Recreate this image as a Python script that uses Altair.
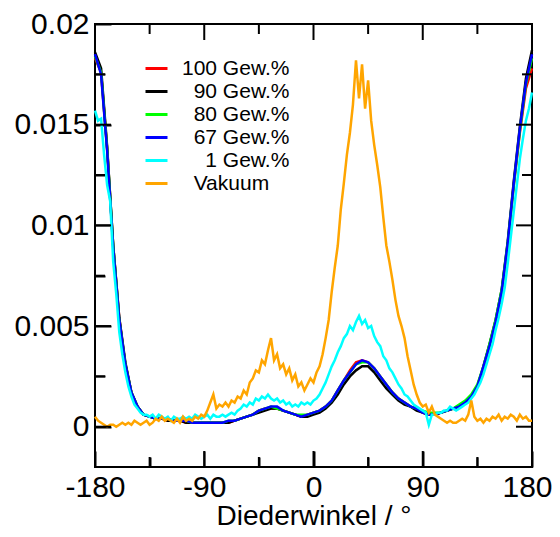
import altair as alt
import pandas as pd

# x grids (degrees)
angles5 = list(range(-180, 181, 5))
angles25 = [a / 2 for a in range(-360, 361, 5)]

# 100 Gew.%  (5 deg steps)
w100 = [.0183, .0176, .0138, .0090, .0054, .0031, .0017, .0010, .0006,
        .0005, .0004, .0004, .0003, .0003, .0003, .0002, .0002, .0002,
        .0002, .0002, .0002, .0002, .0002, .0003, .0004, .0005, .0006,
        .0008, .0009, .0009, .0009, .0008, .0007, .0006, .0005, .0006,
        .0007, .0008, .0010, .0013, .0018, .0023, .0028, .0032, .0033,
        .0032, .0029, .0025, .0021, .0017, .0014, .0012, .0010, .0009,
        .0007, .0006, .0006, .0007, .0008, .0009, .0010, .0012, .0015,
        .0020, .0029, .0040, .0052, .0066, .0090, .0120, .0146, .0168,
        .0178]
# 90 Gew.%
w90 = [.0186, .0178, .0139, .0090, .0054, .0032, .0017, .0010, .0006,
       .0005, .0004, .0004, .0003, .0003, .0003, .0002, .0002, .0002,
       .0002, .0002, .0002, .0002, .0002, .0003, .0004, .0005, .0006,
       .0007, .0008, .0009, .0009, .0008, .0007, .0006, .0005, .0005,
       .0006, .0007, .0009, .0012, .0016, .0021, .0025, .0028, .0030,
       .0030, .0027, .0023, .0019, .0016, .0013, .0011, .0010, .0008,
       .0007, .0006, .0006, .0007, .0008, .0009, .0010, .0012, .0015,
       .0020, .0030, .0041, .0053, .0068, .0092, .0122, .0149, .0173,
       .0187]
# 80 Gew.%
w80 = [.0184, .0176, .0138, .0090, .0053, .0031, .0017, .0010, .0006,
       .0005, .0004, .0004, .0004, .0003, .0003, .0003, .0002, .0002,
       .0002, .0002, .0002, .0002, .0003, .0003, .0004, .0005, .0006,
       .0008, .0009, .0010, .0009, .0008, .0007, .0006, .0006, .0006,
       .0007, .0008, .0010, .0013, .0018, .0023, .0027, .0031, .0032,
       .0032, .0029, .0025, .0021, .0017, .0014, .0012, .0010, .0009,
       .0008, .0007, .0007, .0007, .0008, .0009, .0011, .0013, .0016,
       .0021, .0030, .0041, .0053, .0068, .0091, .0120, .0147, .0170,
       .0183]
# 67 Gew.%
w67 = [.0185, .0175, .0137, .0089, .0053, .0031, .0017, .0010, .0006,
       .0005, .0004, .0004, .0004, .0003, .0003, .0003, .0002, .0002,
       .0002, .0002, .0002, .0002, .0003, .0003, .0004, .0005, .0006,
       .0008, .0009, .0010, .0010, .0008, .0007, .0006, .0005, .0006,
       .0007, .0008, .0010, .0013, .0018, .0023, .0027, .0031, .0033,
       .0032, .0029, .0025, .0021, .0017, .0014, .0012, .0010, .0009,
       .0007, .0006, .0006, .0007, .0008, .0009, .0010, .0012, .0015,
       .0020, .0030, .0040, .0052, .0067, .0091, .0121, .0148, .0171,
       .0185]
# 1 Gew.%  (2.5 deg steps)
w1 = [.0157, .0152, .0153, .0135, .0120, .0112, .0082, .0066, .0047, .0036, .0027, .0020, .0015, .0011, .0009, .0007, .0006, .0006,
      .0005, .0006, .0004, .0006, .0005, .0004, .0005, .0003, .0005, .0004, .0004, .0005, .0004, .0005, .0004, .0006, .0005, .0004,
      .0005, .0006, .0004, .0006, .0005, .0005, .0006, .0005, .0006, .0007, .0006, .0008, .0009, .0011, .0010, .0012, .0011, .0014,
      .0013, .0015, .0014, .0016, .0014, .0013, .0014, .0012, .0013, .0011, .0012, .0010, .0011, .0010, .0012, .0011, .0012, .0011,
      .0013, .0014, .0016, .0019, .0022, .0026, .0030, .0033, .0037, .0040, .0044, .0046, .0050, .0048, .0052, .0055, .0051, .0053,
      .0049, .0050, .0045, .0042, .0040, .0035, .0033, .0029, .0027, .0024, .0021, .0019, .0016, .0015, .0013, .0011, .0010, .0009,
      .0008, .0007, .0001, .0006, .0006, .0007, .0007, .0008, .0008, .0010, .0009, .0008, .0009, .0010, .0011, .0012, .0014, .0016,
      .0019, .0022, .0026, .0031, .0036, .0041, .0048, .0054, .0061, .0069, .0081, .0094, .0107, .0120, .0133, .0143, .0152, .0158,
      .0166]
# Vakuum  (2.5 deg steps)
vak = [.0005, .0003, .0002, .0001, .0000, .0001, .0001, .0000, .0001, .0002, .0001, .0002, .0001, .0003, .0002, .0001, .0002, .0003,
       .0001, .0002, .0004, .0003, .0005, .0003, .0004, .0003, .0002, .0004, .0002, .0005, .0003, .0004, .0003, .0005, .0004, .0006,
       .0005, .0008, .0012, .0016, .0009, .0011, .0010, .0012, .0010, .0013, .0012, .0015, .0014, .0018, .0016, .0022, .0024, .0028,
       .0027, .0033, .0031, .0038, .0044, .0033, .0036, .0029, .0031, .0026, .0029, .0023, .0026, .0020, .0022, .0018, .0021, .0024,
       .0022, .0027, .0030, .0036, .0044, .0053, .0067, .0079, .0090, .0108, .0121, .0135, .0146, .0160, .0182, .0163, .0180, .0158,
       .0172, .0152, .0140, .0130, .0119, .0104, .0090, .0082, .0073, .0063, .0055, .0050, .0044, .0035, .0028, .0021, .0016, .0012,
       .0010, .0011, .0007, .0010, .0006, .0005, .0004, .0003, .0002, .0003, .0002, .0002, .0003, .0004, .0003, .0006, .0013, .0005,
       .0003, .0004, .0002, .0004, .0003, .0005, .0004, .0006, .0003, .0005, .0004, .0006, .0005, .0003, .0006, .0004, .0005, .0003,
       .0003]

ZW = "\u200b"   # keeps the padding below from being trimmed
NB = "\u00a0"
labels = ["100 Gew.%", ZW + NB * 2 + "90 Gew.%", ZW + NB * 2 + "80 Gew.%", ZW + NB * 2 + "67 Gew.%",
          ZW + NB * 4 + "1 Gew.%", ZW + NB * 2 + "Vakuum"]
colors = ["#ff0000", "#000000", "#00ff00", "#0000ff", "#00ffff", "#ffa500"]

x_tick_values = [-180, -135, -90, -45, 0, 45, 90, 135, 180]
y_tick_values = [0, 0.0025, 0.005, 0.0075, 0.01, 0.0125, 0.015, 0.0175, 0.02]

rows = []
series_list = [(labels[0], angles5, w100), (labels[1], angles5, w90), (labels[2], angles5, w80),
               (labels[3], angles5, w67), (labels[4], angles25, w1), (labels[5], angles25, vak)]
for k, (lab, xs_, ys_) in enumerate(series_list):
    for x, y in zip(xs_, ys_):
        rows.append({"angle": x, "p": y, "series": lab, "k": k})
df = pd.DataFrame(rows)

W, H = 437, 443
X0, X1 = -180, 180
Y0, Y1 = -0.002, 0.02
FONT = "Liberation Sans"
FS = 30
TL = 16
xscale = alt.Scale(domain=[X0, X1], nice=False, zero=False)
yscale = alt.Scale(domain=[Y0, Y1], nice=False, zero=False)

X_MINOR = "datum.value % 90 != 0"
Y_MINOR = "round(datum.value * 10000) % 50 != 0"
x_dash = {"condition": {"test": X_MINOR, "value": [0, 6, 10]}, "value": [1, 0]}
y_dash = {"condition": {"test": Y_MINOR, "value": [0, 6, 10]}, "value": [1, 0]}

xaxis = alt.Axis(orient="bottom", offset=-TL, values=x_tick_values,
                 ticks=True, tickSize=TL, tickWidth=2, tickColor="black", tickDash=x_dash,
                 domain=False, grid=False, labelOverlap=False,
                 labelExpr="datum.value % 90 == 0 ? '' + datum.value : ''",
                 labelOffset={"condition": {"test": "datum.value == 180", "value": -5}, "value": 0},
                 labelFontSize=FS, labelFont=FONT, labelColor="black", labelPadding=5,
                 labelFlush=False, title="Diederwinkel / °", titleFont=FONT,
                 titleFontSize=28, titleFontWeight="normal", titleColor="black",
                 titlePadding=0)
yaxis = alt.Axis(orient="left", offset=-TL, values=y_tick_values,
                 ticks=True, tickSize=TL, tickWidth=2, tickColor="black", tickDash=y_dash,
                 domain=False, grid=False, labelOverlap=False,
                 labelExpr="round(datum.value * 10000) % 50 == 0 ? format(datum.value, '~g') : ''",
                 labelFontSize=FS, labelFont=FONT, labelColor="black",
                 labelPadding=6, labelFlush=False, title=None)

lines = alt.Chart(df).mark_line(strokeWidth=2.5).encode(
    x=alt.X("angle:Q", scale=xscale, axis=xaxis),
    y=alt.Y("p:Q", scale=yscale, axis=yaxis),
    color=alt.Color("series:N", sort=labels,
                    scale=alt.Scale(domain=labels, range=colors),
                    legend=alt.Legend(title=None, orient="none", legendX=49, legendY=32,
                                      symbolType="stroke", symbolSize=484, symbolStrokeWidth=3,
                                      labelFont=FONT, labelFontSize=21, labelColor="black",
                                      labelOffset=13, rowPadding=0, padding=0, labelLimit=300)),
    detail="k:Q",
    order=alt.Order("angle:Q"),
)

# frame ticks as rules spanning data ranges (16 px major, 10 px minor), on all four sides
dy = (Y1 - Y0) / H
dx = (X1 - X0) / W
xt = []
for v in x_tick_values:
    L = 10 if v % 90 else 16
    xt.append({"angle": v, "p": Y0, "p2": Y0 + L * dy})
    xt.append({"angle": v, "p": Y1 - L * dy, "p2": Y1})
yt = []
for v in y_tick_values:
    L = 10 if round(v * 10000) % 50 else 16
    yt.append({"p": v, "angle": X0, "angle2": X0 + L * dx})
    yt.append({"p": v, "angle": X1 - L * dx, "angle2": X1})

xrules = alt.Chart(pd.DataFrame(xt)).mark_rule(color="#000000", strokeWidth=2).encode(
    x=alt.X("angle:Q", scale=xscale, axis=xaxis),
    y=alt.Y("p:Q", scale=yscale, axis=yaxis),
    y2="p2:Q",
)
yrules = alt.Chart(pd.DataFrame(yt)).mark_rule(color="#000000", strokeWidth=2).encode(
    y=alt.Y("p:Q", scale=yscale, axis=yaxis),
    x=alt.X("angle:Q", scale=xscale, axis=xaxis),
    x2="angle2:Q",
)

chart = alt.layer(lines, xrules, yrules).properties(
    width=W, height=H,
    autosize=alt.AutoSizeParams(type="none"),
    padding={"left": 87, "top": 16, "right": 20, "bottom": 62},
    background="white",
).configure_view(stroke="black", strokeWidth=2)

chart.save("out.html", embed_options={"renderer": "svg", "actions": False})
